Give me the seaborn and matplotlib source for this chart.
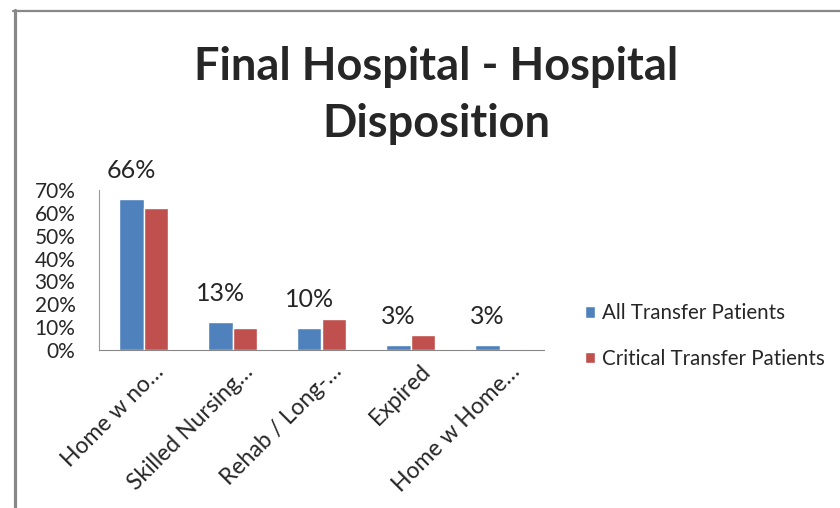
import matplotlib
matplotlib.use("Agg")
import matplotlib.pyplot as plt
from matplotlib.lines import Line2D
from matplotlib.transforms import ScaledTranslation
import pandas as pd
import seaborn as sns

categories = ["Home w no…", "Skilled Nursing…", "Rehab / Long-…", "Expired", "Home w Home…"]
all_transfer = [66, 12.3, 9.7, 2.2, 2.2]
critical_transfer = [62, 9.6, 13.6, 6.6, 0.5]
label_text = ["66%", "13%", "10%", "3%", "3%"]
series_names = ["All Transfer Patients", "Critical Transfer Patients"]
y_ticks = [0, 10, 20, 30, 40, 50, 60, 70]

df = pd.DataFrame({
    "category": categories * 2,
    "value": all_transfer + critical_transfer,
    "series": [series_names[0]] * 5 + [series_names[1]] * 5,
})

sns.set_style("white")
plt.rcParams["font.family"] = ["Lato", "DejaVu Sans"]

fig = plt.figure(figsize=(8.4, 5.08), dpi=100)
ax = fig.add_axes([99 / 840, 1 - 350 / 508, 445 / 840, 160 / 508])

sns.barplot(
    data=df, x="category", y="value", hue="series",
    palette=["#4F81BD", "#C0504D"], width=0.55, ax=ax,
    saturation=1, legend=True,
)

ax.set_xlim(-0.5, 4.5)
ax.set_ylim(0, 70)
ax.set_yticks(y_ticks)
ax.set_yticklabels([f"{t}%" for t in y_ticks], fontsize=15)
ax.set_xlabel("")
ax.set_ylabel("")

# boundary ticks between categories, labels sit on minor ticks
ax.set_xticks([i - 0.5 for i in range(6)])
ax.set_xticklabels([])
ax.set_xticks(range(5), minor=True)
ax.set_xticklabels(categories, minor=True, rotation=45, ha="right",
                   va="center", rotation_mode="anchor", fontsize=16.5)
ax.tick_params(axis="x", which="major", length=5, width=1, color="#888888", direction="out")
ax.tick_params(axis="x", which="minor", length=0, pad=13)
ax.tick_params(axis="y", length=5, width=1, color="#888888", direction="out", pad=12)
shift = ScaledTranslation(0.17, 0, fig.dpi_scale_trans)
for lbl in ax.get_xticklabels(minor=True):
    lbl.set_transform(lbl.get_transform() + shift)

for side in ["top", "right"]:
    ax.spines[side].set_visible(False)
ax.spines["bottom"].set_color("#888888")
ax.spines["left"].set_color("#999999")
ax.spines["left"].set_linewidth(0.8)

for i, txt in enumerate(label_text):
    ax.text(i - 0.1375, all_transfer[i] + 9.2, txt, ha="center", va="baseline", fontsize=18)

ax.legend(
    loc="center left", bbox_to_anchor=(585 / 840, 1 - 336 / 508),
    bbox_transform=fig.transFigure, frameon=False, borderpad=0, borderaxespad=0,
    fontsize=14.8, handlelength=0.5, handleheight=0.5, handletextpad=0.35,
    labelspacing=1.25,
)

fig.text(436 / 840, 1 - 80 / 508, "Final Hospital - Hospital", ha="center",
         va="baseline", fontsize=32.5, fontweight="bold")
fig.text(436 / 840, 1 - 137 / 508, "Disposition", ha="center",
         va="baseline", fontsize=32.5, fontweight="bold")

fig.add_artist(Line2D([14.5 / 840, 14.5 / 840], [0, 1 - 10 / 508], color="#888888", lw=2.3))
fig.add_artist(Line2D([13 / 840, 1], [1 - 11 / 508, 1 - 11 / 508], color="#888888", lw=1.6))

fig.savefig("out.png", dpi=100)
